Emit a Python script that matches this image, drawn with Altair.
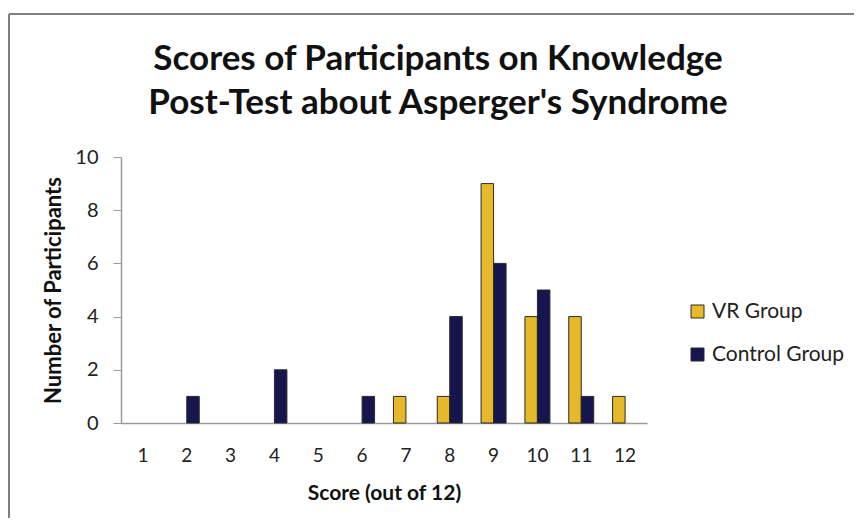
import altair as alt
import pandas as pd

scores = list(range(1, 13))
vr_counts = [0, 0, 0, 0, 0, 0, 1, 1, 9, 4, 4, 1]
control_counts = [0, 1, 0, 2, 0, 1, 0, 4, 6, 5, 1, 0]
groups = ["VR Group", "Control Group"]
colors = ["#E6B92B", "#16164F"]
y_ticks = [0, 2, 4, 6, 8, 10]
title_lines = ["Scores of Participants on Knowledge", "Post-Test about Asperger's Syndrome"]

rows = []
for s, v, c in zip(scores, vr_counts, control_counts):
    rows.append({"score": s, "group": groups[0], "count": v})
    rows.append({"score": s, "group": groups[1], "count": c})
df = pd.DataFrame(rows)
df = df[df["count"] > 0]

FONT = "Lato"

bars = alt.Chart(df).mark_bar(stroke="#2a2a2a", strokeWidth=1).encode(
    x=alt.X("score:O",
            scale=alt.Scale(domain=scores, paddingInner=0.43, paddingOuter=0.215),
            axis=alt.Axis(title="Score (out of 12)", labelAngle=0, ticks=False,
                          labelFontSize=19, labelPadding=23, titleFontSize=21,
                          titleFontWeight="bold", titlePadding=17,
                          domainColor="#9a9a9a", domainWidth=1.5)),
    xOffset=alt.XOffset("group:N", scale=alt.Scale(domain=groups)),
    y=alt.Y("count:Q",
            scale=alt.Scale(domain=[0, 10]),
            axis=alt.Axis(values=y_ticks, title="Number of Participants", grid=False,
                          labelFontSize=20, labelPadding=15, tickSize=8,
                          tickColor="#9a9a9a", domainColor="#9a9a9a", domainWidth=1.5,
                          titleFontSize=22, titleFontWeight="bold", titlePadding=9)),
    color=alt.Color("group:N",
                    scale=alt.Scale(domain=groups, range=colors),
                    sort=groups,
                    legend=alt.Legend(title=None, orient="none", legendX=566, legendY=144,
                                      symbolType="square", symbolSize=169,
                                      symbolStrokeColor="#2a2a2a", symbolStrokeWidth=1,
                                      labelFontSize=21, rowPadding=21, labelOffset=4)),
)

one = pd.DataFrame({"a": [0]})
top_border = alt.Chart(one).mark_rule(color="#808080", strokeWidth=2).encode(
    x=alt.value(-112), x2=alt.value(741), y=alt.value(-143))
left_border = alt.Chart(one).mark_rule(color="#808080", strokeWidth=2).encode(
    x=alt.value(-112), y=alt.value(-143), y2=alt.value(369))

title1 = alt.Chart(one).mark_text(fontSize=35, fontWeight="bold", font=FONT, color="#111111",
                                  align="center", baseline="alphabetic").encode(
    x=alt.value(317), y=alt.value(-87), text=alt.value(title_lines[0]))
title2 = alt.Chart(one).mark_text(fontSize=35, fontWeight="bold", font=FONT, color="#111111",
                                  align="center", baseline="alphabetic").encode(
    x=alt.value(317), y=alt.value(-43), text=alt.value(title_lines[1]))

chart = alt.layer(top_border, left_border, title1, title2, bars).properties(
    width=526, height=266,
    padding={"left": 113, "top": 149, "right": 207, "bottom": 95},
    autosize=alt.AutoSizeParams(type="none"),
).configure(font=FONT).configure_view(stroke=None).configure_axis(
    labelColor="#222222", titleColor="#111111", labelFont=FONT, titleFont=FONT
).configure_legend(labelColor="#222222", labelFont=FONT)

chart.save("out.html", embed_options={"renderer": "svg", "actions": False})
